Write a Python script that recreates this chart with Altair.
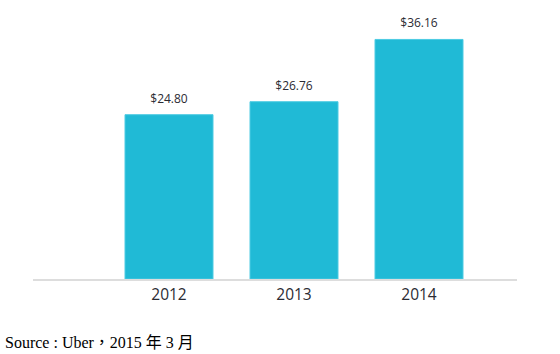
import altair as alt
import pandas as pd

years = ["2012", "2013", "2014"]
values = [24.80, 26.76, 36.16]
labels = ["$24.80", "$26.76", "$36.16"]
source_note = ["Source : Uber，2015  年  3  月"]

df = pd.DataFrame({"year": years, "value": values, "label": labels})

W, H = 484, 265

x = alt.X("year:N", sort=years,
          scale=alt.Scale(range=[73.5, 448.5], paddingInner=0.296, paddingOuter=0.148),
          axis=alt.Axis(title=None, labelAngle=0, domain=False, ticks=False,
                        labelFontSize=15.5, labelColor="#2b2b33", labelFont="Open Sans",
                        labelPadding=8))
y = alt.Y("value:Q", scale=alt.Scale(domain=[0, 40], nice=False),
          axis=None)

base = alt.Chart(df)
bars = base.mark_bar(color="#20BAD6", stroke="#4CCBE3", strokeWidth=1).encode(x=x, y=y)
text = base.mark_text(dy=-9, fontSize=12, color="#2b2b33", font="Open Sans",
                      baseline="bottom").encode(x=x, y=y, text="label:N")
rule = alt.Chart(pd.DataFrame({"v": [0]})).mark_rule(color="#dddddd", strokeWidth=2).encode(
    x=alt.value(0), x2=alt.value(W), y=alt.value(H + 1))
note = alt.Chart(pd.DataFrame({"t": source_note})).mark_text(
    align="left", baseline="alphabetic", fontSize=16, color="#000000",
    font="Liberation Serif, Noto Sans CJK TC").encode(
    x=alt.value(-28), y=alt.value(H + 69), text="t:N")

chart = alt.layer(bars, text, rule, note).properties(
    width=W, height=H,
    background="white",
    autosize=alt.AutoSizeParams(type="none"),
    padding={"left": 33, "top": 14, "right": 43, "bottom": 75},
).configure_view(stroke=None)

chart.save("out.html", embed_options={"renderer": "svg", "actions": False})
